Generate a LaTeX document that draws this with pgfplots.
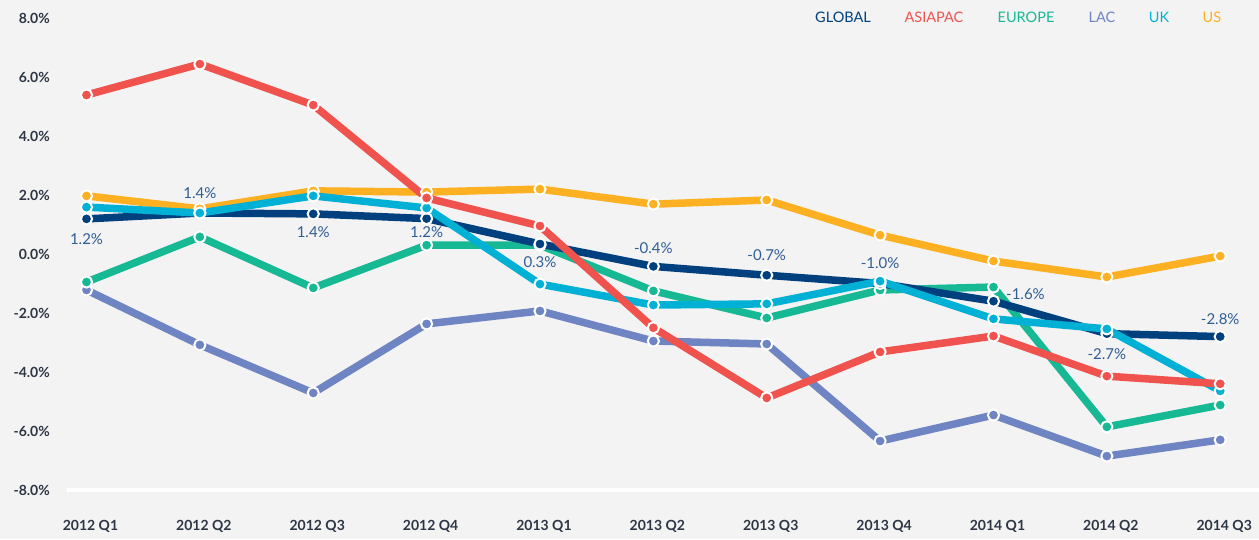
\documentclass[border=0pt]{standalone}
\usepackage{pgfplots}
\usepackage{pgfplotstable}
\pgfplotsset{compat=1.18}
\usepackage{fontspec}
\setmainfont{Lato}
\definecolor{bg}{HTML}{F3F3F3}
\definecolor{cglobal}{HTML}{00407E}
\definecolor{casia}{HTML}{F0524E}
\definecolor{ceurope}{HTML}{17B894}
\definecolor{clac}{HTML}{6F84C2}
\definecolor{cuk}{HTML}{00B1D5}
\definecolor{cus}{HTML}{FDB021}
\definecolor{ctick}{HTML}{2E3645}
\definecolor{clabel}{HTML}{2F5D96}

\pgfplotstableread{
x y lbl dx dy
0 1.19 1.2 0 -20
1 1.39 1.4 0 20
2 1.36 1.4 0 -18
3 1.20 1.2 0 -14
4 0.34 0.3 0 -18
5 -0.42 -0.4 0 18
6 -0.72 -0.7 0 20
7 -1.00 -1.0 0 20
8 -1.60 -1.6 32 7
9 -2.70 -2.7 0 -20
10 -2.80 -2.8 0 17
}\tglobal
\pgfplotstableread{
x y
0 5.39
1 6.44
2 5.05
3 1.90
4 0.95
5 -2.50
6 -4.88
7 -3.32
8 -2.78
9 -4.14
10 -4.40
}\tasia
\pgfplotstableread{
x y
0 -0.95
1 0.58
2 -1.15
3 0.30
4 0.30
5 -1.25
6 -2.17
7 -1.22
8 -1.12
9 -5.86
10 -5.12
}\teurope
\pgfplotstableread{
x y
0 -1.22
1 -3.08
2 -4.71
3 -2.37
4 -1.93
5 -2.95
6 -3.05
7 -6.34
8 -5.46
9 -6.85
10 -6.30
}\tlac
\pgfplotstableread{
x y
0 1.59
1 1.39
2 1.97
3 1.56
4 -1.02
5 -1.73
6 -1.69
7 -0.92
8 -2.20
9 -2.54
10 -4.64
}\tuk
\pgfplotstableread{
x y
0 1.97
1 1.53
2 2.14
3 2.10
4 2.20
5 1.69
6 1.83
7 0.64
8 -0.24
9 -0.78
10 -0.07
}\tus

\pgfplotsset{
  series/.style={#1, line width=7.5pt, line join=round, line cap=round,
     mark=*, mark size=5.6pt, mark options={draw=white, fill=#1, line width=2pt, solid}},
}

\begin{document}
\begin{tikzpicture}
\fill[bg] (0,0) rectangle (1259pt,539pt);
\begin{axis}[
  at={(67pt,49pt)}, anchor=south west,
  scale only axis, width=1192pt, height=472pt,
  xmin=-0.172, xmax=10.342, ymin=-8, ymax=8,
  clip=false,
  axis line style={draw=none},
  major tick length=0pt,
  xtick={0,...,10},
  xticklabels={2012 Q1,2012 Q2,2012 Q3,2012 Q4,2013 Q1,2013 Q2,2013 Q3,2013 Q4,2014 Q1,2014 Q2,2014 Q3},
  ytick={-8,-6,...,8},
  yticklabels={-8.0\%,-6.0\%,-4.0\%,-2.0\%,0.0\%,2.0\%,4.0\%,6.0\%,8.0\%},
  ticklabel style={font=\fontsize{14}{16}\selectfont\bfseries, text=ctick},
  yticklabel style={anchor=east, inner sep=0pt, xshift=-17pt},
  xticklabel style={anchor=north, inner sep=0pt, yshift=-30pt, xshift=4pt},
]
\draw[white, line width=4pt] (rel axis cs:0,0) -- (rel axis cs:1,0);
\addplot[series=clac] table[x=x,y=y] {\tlac};
\addplot[series=ceurope] table[x=x,y=y] {\teurope};
\addplot[series=cglobal] table[x=x,y=y] {\tglobal};
\addplot[series=cus] table[x=x,y=y] {\tus};
\addplot[series=cuk] table[x=x,y=y] {\tuk};
\addplot[series=casia] table[x=x,y=y] {\tasia};
\addplot[draw=none, mark=none,
  point meta=explicit symbolic,
  visualization depends on={\thisrow{dx} \as \dxv},
  visualization depends on={\thisrow{dy} \as \dyv},
  nodes near coords={\pgfplotspointmeta\%},
  nodes near coords style={anchor=center, inner sep=0pt, xshift=\dxv, yshift=\dyv,
     font=\fontsize{15}{17}\selectfont, text=clabel}]
  table[x=x,y=y,meta=lbl] {\tglobal};
\end{axis}
\begin{scope}[every node/.style={font=\fontsize{14.5}{16}\selectfont, anchor=center}]
\node[text=cglobal] at (843pt,522pt) {GLOBAL};
\node[text=casia] at (934pt,522pt) {ASIAPAC};
\node[text=ceurope] at (1026pt,522pt) {EUROPE};
\node[text=clac] at (1102pt,522pt) {LAC};
\node[text=cuk] at (1159pt,522pt) {UK};
\node[text=cus] at (1212pt,522pt) {US};
\end{scope}
\pgfresetboundingbox
\path[use as bounding box] (0,0) rectangle (1259pt,539pt);
\end{tikzpicture}
\end{document}
